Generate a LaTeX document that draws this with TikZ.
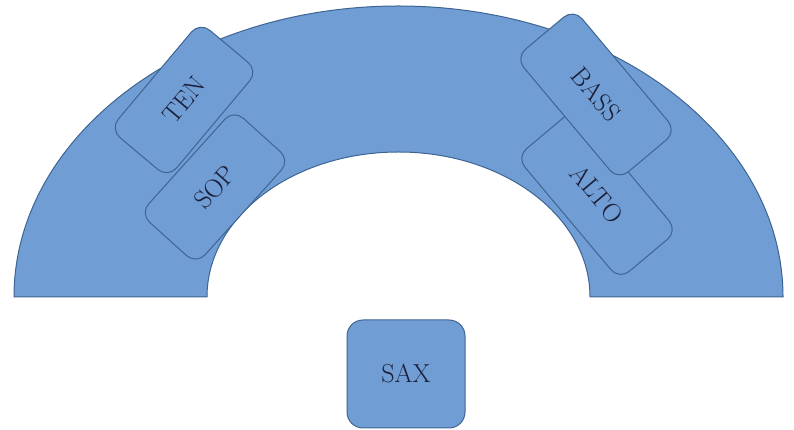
\documentclass[tikz,border=0pt]{standalone}
\definecolor{boxfill}{RGB}{112,157,212}
\definecolor{boxline}{RGB}{62,100,148}
\definecolor{txt}{RGB}{28,32,58}
\tikzset{
  seat/.style={draw=boxline, fill=boxfill, line width=1pt, rounded corners=13pt,
    minimum width=140pt, minimum height=76pt, inner sep=0pt, text=txt,
    font=\fontsize{26}{30}\selectfont},
  wide/.style={seat, minimum width=160pt},
}
\begin{document}
\begin{tikzpicture}[x=1pt,y=1pt]
\useasboundingbox (0,0) rectangle (794,430);
% arc stage
\draw[draw=boxline, fill=boxfill, line width=1pt]
  (14,133) arc[start angle=180, end angle=0, x radius=384.5, y radius=291]
  -- (590,133) arc[start angle=0, end angle=180, x radius=191.5, y radius=145]
  -- cycle;
\node[wide, rotate=-50] (alto) at (597,236) {ALTO};
\node[wide, rotate=-50] (bass) at (596,335.5) {BASS};
\node[seat, rotate=48] (sop) at (215,243) {SOP};
\node[seat, rotate=50] (ten) at (184,330) {TEN};
\node[seat, rounded corners=16pt, minimum width=118pt, minimum height=108pt, rotate=0] (sax) at (406,56) {SAX};
\end{tikzpicture}
\end{document}
